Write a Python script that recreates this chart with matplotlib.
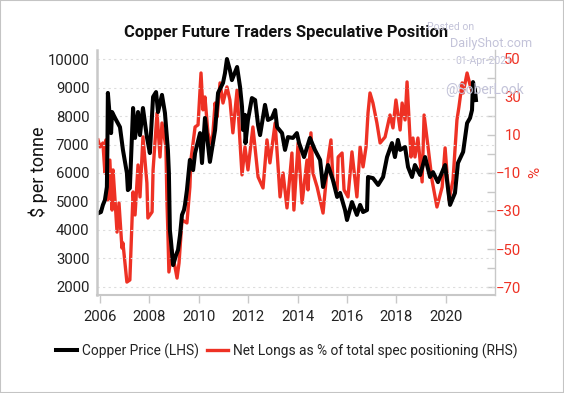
import matplotlib
matplotlib.use("Agg")
import matplotlib.pyplot as plt
from matplotlib.patches import Rectangle

plt.rcParams['font.family'] = ['Roboto', 'DejaVu Sans']

# copper price, $ per tonne
price_years = [2005.96, 2006.04, 2006.12, 2006.20, 2006.28, 2006.30, 2006.32, 2006.45, 2006.49, 2006.61,
               2006.81, 2006.93, 2007.09, 2007.13, 2007.21, 2007.34, 2007.42, 2007.54, 2007.62, 2007.74,
               2007.90, 2008.02, 2008.15, 2008.27, 2008.35, 2008.51, 2008.63, 2008.75, 2008.79, 2008.83,
               2008.87, 2008.96, 2009.08, 2009.16, 2009.24, 2009.32, 2009.40, 2009.44, 2009.52, 2009.64,
               2009.77, 2009.85, 2010.05, 2010.13, 2010.25, 2010.45, 2010.66, 2010.78, 2010.98, 2011.06,
               2011.14, 2011.26, 2011.34, 2011.55, 2011.67, 2011.75, 2011.79, 2011.87, 2011.89, 2011.99,
               2012.15, 2012.28, 2012.40, 2012.48, 2012.68, 2012.80, 2012.96, 2013.09, 2013.17, 2013.37,
               2013.49, 2013.61, 2013.81, 2013.97, 2014.06, 2014.26, 2014.50, 2014.70, 2014.91, 2015.03,
               2015.23, 2015.43, 2015.60, 2015.72, 2015.92, 2016.00, 2016.20, 2016.40, 2016.53, 2016.65,
               2016.81, 2016.85, 2017.05, 2017.26, 2017.46, 2017.62, 2017.82, 2017.94, 2018.06, 2018.15,
               2018.35, 2018.47, 2018.63, 2018.75, 2018.96, 2019.16, 2019.36, 2019.48, 2019.68, 2019.97,
               2020.17, 2020.37, 2020.49, 2020.70, 2020.86, 2020.98, 2021.06, 2021.10, 2021.18, 2021.22]
price = [4600, 4630, 4880, 5050, 5510, 6810, 8810, 7400, 8140, 7930,
         7610, 6810, 6000, 5400, 5470, 8280, 7230, 8140, 7330, 8280,
         7260, 6700, 8670, 8840, 8140, 8740, 8110, 6810, 6000, 4000,
         3650, 2770, 3120, 3300, 3820, 4530, 4700, 4880, 5400, 6460,
         6100, 6700, 7400, 6350, 7930, 6390, 7510, 8810, 9160, 9500,
         10000, 9610, 9260, 9720, 9020, 8320, 7510, 8040, 7050, 7860,
         8630, 8560, 7680, 7330, 8390, 7860, 7930, 8210, 7610, 7400,
         6810, 7260, 7230, 7400, 7050, 6560, 7230, 6810, 6460, 5510,
         6280, 5750, 5160, 5300, 4700, 4350, 4980, 4530, 4880, 4630,
         4700, 5860, 5820, 5580, 5860, 6560, 7050, 6560, 7160, 6810,
         6910, 6210, 5860, 6280, 5930, 6560, 5860, 6030, 5680, 6280,
         4880, 5300, 6350, 6740, 7750, 7930, 8210, 9190, 8910, 8560]

# net longs as % of total spec positioning
longs_years = [2005.92, 2006.00, 2006.12, 2006.20, 2006.24, 2006.32, 2006.40, 2006.49, 2006.53, 2006.61,
               2006.69, 2006.77, 2006.89, 2006.93, 2007.09, 2007.21, 2007.34, 2007.42, 2007.54, 2007.62,
               2007.74, 2007.90, 2007.94, 2008.11, 2008.15, 2008.31, 2008.43, 2008.51, 2008.67, 2008.71,
               2008.75, 2008.79, 2008.91, 2009.12, 2009.20, 2009.32, 2009.52, 2009.64, 2009.68, 2009.85,
               2009.97, 2010.09, 2010.17, 2010.25, 2010.37, 2010.53, 2010.66, 2010.74, 2010.86, 2010.98,
               2011.14, 2011.26, 2011.38, 2011.55, 2011.67, 2011.75, 2011.87, 2011.99, 2012.19, 2012.40,
               2012.60, 2012.76, 2012.88, 2013.09, 2013.21, 2013.29, 2013.41, 2013.57, 2013.77, 2013.85,
               2014.02, 2014.18, 2014.38, 2014.42, 2014.54, 2014.62, 2014.79, 2015.03, 2015.23, 2015.35,
               2015.43, 2015.60, 2015.64, 2015.80, 2015.88, 2016.04, 2016.20, 2016.40, 2016.53, 2016.65,
               2016.77, 2016.85, 2016.93, 2017.05, 2017.21, 2017.34, 2017.54, 2017.74, 2017.86, 2017.98,
               2018.15, 2018.23, 2018.35, 2018.43, 2018.59, 2018.67, 2018.75, 2018.87, 2019.04, 2019.12,
               2019.28, 2019.44, 2019.64, 2019.85, 2019.97, 2020.13, 2020.29, 2020.45, 2020.53, 2020.66,
               2020.70, 2020.86, 2020.98, 2021.18]
longs = [7.4, 3.7, 5.8, -10, 7.4, -24.2, -3.2, -29.5, -8.4, -24.2,
         -41.1, -25.8, -49.5, -46.8, -67.4, -66.3, -20, -32.1, -5.8, -22.6,
         9, -15.3, -33.7, -30.5, -8.4, 21.6, -1.6, 16.3, 3.7, -24.2,
         -41.6, -62.1, -50.5, -65.3, -57.4, -34.7, -36.3, -17.4, -3.2, 14.2,
         15.3, 42.6, 23.2, 30, 11.1, 3.7, 26.8, 19.5, 37.4, 26.8,
         35.3, 28.4, 11.1, 33.7, 5.8, -11, 3.7, -8.4, 14.2, -12.1,
         -17.9, 7.4, -4.7, 16.3, -6.8, -22.6, -10, -28.4, 0.5, -29.5,
         5.8, -25.8, -3.2, -18.9, 11.1, -10, -17.4, -31.1, -3.2, 7.4,
         -13.7, -18.9, -1.6, 0.5, -18.9, -22.6, 1.1, -22.6, 3.7, -6.8,
         3.7, 21.6, 32.1, 26.8, 16.3, 5.8, 8.9, 20.5, 13.7, 28.4,
         12.6, 26.8, 17.9, 37.9, -1.6, 8.4, -1.6, 8.4, -14.7, 20.5,
         3.7, -13.7, -27.9, -17.4, 3.2, -24.2, -13.7, 17.9, 24.7, 37.4,
         32.1, 42.6, 36.3, 28.4]

year_ticks = [2006, 2008, 2010, 2012, 2014, 2016, 2018, 2020]
price_ticks = [2000, 3000, 4000, 5000, 6000, 7000, 8000, 9000, 10000]
longs_labels = [-70, -50, -30, -10, 10, 30, 50]
longs_minor = [-60, -40, -20, 0, 20, 40]

RED = '#ee3124'
GREY = '#c8c8c8'

fig = plt.figure(figsize=(5.64, 3.93), dpi=100)
fig.patches.append(Rectangle((0, 0), 1, 1, transform=fig.transFigure, fill=False,
                             edgecolor='#c4c4c4', linewidth=1.5))

W, H = 564.0, 393.0
ax = fig.add_axes([97 / W, 1 - 295 / H, (495 - 97) / W, (295 - 50) / H])
ax2 = ax.twinx()
ax.set_zorder(ax2.get_zorder() + 1)
ax.patch.set_visible(False)

ax2.plot(longs_years, longs, color=RED, lw=2.4, solid_joinstyle='round', label='Net Longs as % of total spec positioning (RHS)')
ax.plot(price_years, price, color='black', lw=2.9, solid_joinstyle='round', label='Copper Price (LHS)')

ax.set_xlim(2005.88, 2021.99)
ax.set_ylim(1719, 10316)
ax2.set_ylim(-74.2, 54.7)

ax.set_xticks(year_ticks)
ax.set_yticks(price_ticks)
ax.tick_params(axis='x', length=6, width=1, color=GREY, labelsize=10.7, pad=4.5, labelcolor='#222222')
ax.tick_params(axis='y', length=0, labelsize=10.7, pad=5.5, labelcolor='#222222')
ax.grid(axis='y', color='#dddddd', linestyle=(0, (2, 3)), linewidth=0.8)
ax.set_axisbelow(True)

ax2.set_yticks(longs_labels)
ax2.set_yticks(longs_minor, minor=True)
ax2.tick_params(axis='y', which='both', direction='in', length=6, width=1, color=GREY,
                labelsize=10.7, pad=18.7, labelcolor=RED)
for lab in ax2.get_yticklabels():
    lab.set_ha('right')

for a in (ax, ax2):
    a.spines['top'].set_visible(False)
    for s in ('left', 'bottom', 'right'):
        a.spines[s].set_color(GREY)
ax.spines['left'].set_linewidth(1.8)
ax.spines['bottom'].set_linewidth(1.5)
ax2.spines['right'].set_linewidth(1.0)
ax.spines['right'].set_visible(False)
ax2.spines['left'].set_visible(False)
ax2.spines['bottom'].set_visible(False)

fig.text(286 / W, 1 - 33 / H, 'Copper Future Traders Speculative Position', ha='center', va='center',
         fontsize=11.9, fontweight='bold', color='#111111')
fig.text(38 / W, 1 - 172 / H, '$ per tonne', rotation=90, ha='center', va='center', fontsize=13, color='#111111')
fig.text(535 / W, 1 - 172 / H, '%', rotation=90, ha='center', va='center', fontsize=11, color=RED)

# watermark
wm = '#c3c3d9'
fig.text(451 / W, 1 - 27 / H, 'Posted on', ha='center', va='center', fontsize=7.5, color=wm)
fig.text(491 / W, 1 - 43 / H, 'DailyShot.com', ha='center', va='center', fontsize=9.2, color=wm)
fig.text(484 / W, 1 - 61 / H, '01-Apr-2021', ha='center', va='center', fontsize=7.5, color=wm, zorder=0)
fig.text(485 / W, 1 - 90 / H, '@SoberLook', ha='center', va='center', fontsize=10, color=wm)

h1, l1 = ax.get_legend_handles_labels()
h2, l2 = ax2.get_legend_handles_labels()
fig.legend(h1 + h2, l1 + l2, ncol=2, frameon=False, loc='center', bbox_to_anchor=(287 / W, 1 - 351 / H),
           fontsize=9.9, handlelength=1.5, handletextpad=0.4, columnspacing=0.6, labelcolor='#222222')

fig.savefig('out.png', dpi=100)
